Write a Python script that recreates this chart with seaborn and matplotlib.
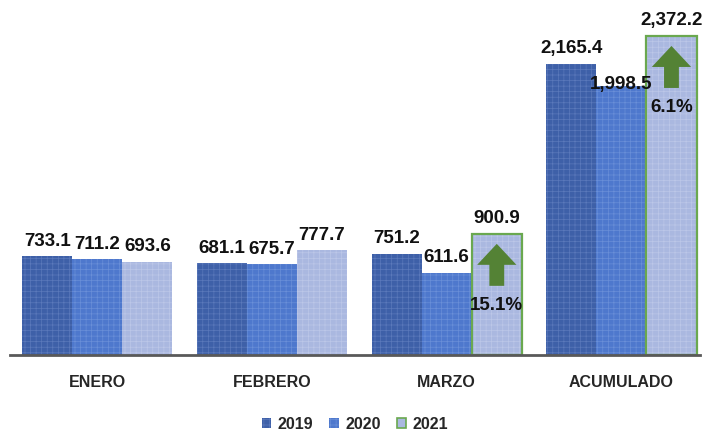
import pandas as pd
import numpy as np
import seaborn as sns
import matplotlib.pyplot as plt
from matplotlib.patches import Patch, FancyArrow

meses = ['ENERO', 'FEBRERO', 'MARZO', 'ACUMULADO']
anios = ['2019', '2020', '2021']
v2019 = [733.1, 681.1, 751.2, 2165.4]
v2020 = [711.2, 675.7, 611.6, 1998.5]
v2021 = [693.6, 777.7, 900.9, 2372.2]
variacion = {'MARZO': '15.1%', 'ACUMULADO': '6.1%'}

datos = pd.DataFrame({
    'mes': meses * 3,
    'anio': [a for a in anios for _ in meses],
    'valor': v2019 + v2020 + v2021,
})

sns.set_style('white')
plt.rcParams['font.family'] = ['Liberation Sans', 'DejaVu Sans']
plt.rcParams['hatch.linewidth'] = 0.5

colores = ['#3e60a8', '#4e78cd', '#aab8e0']
hatch_col = ['#5b79bb', '#6a8fd8', '#bcc7e8']
verde = '#6aa84f'
flecha = '#548235'

fig = plt.figure(figsize=(7.04, 4.35), dpi=100)
ax = fig.add_axes([10 / 704, 1 - 356 / 435, 690 / 704, 356 / 435])
sns.barplot(data=datos, x='mes', y='valor', hue='anio', palette=colores,
            width=0.86, saturation=1, legend=False, ax=ax)

ymax = 2647
ax.set_ylim(0, ymax)
ax.set_xlim(-0.5, 3.45)
px = ymax / 356  # unidades por pixel

barras = list(ax.containers)[:3]
for i, cont in enumerate(barras):
    for j, bar in enumerate(cont):
        bar.set_edgecolor(hatch_col[i])
        bar.set_hatch('+++')
        bar.set_linewidth(0)
        h = bar.get_height()
        cx = bar.get_x() + bar.get_width() / 2
        off = 16
        if i == 1 and j == 3:
            off = 3
        ax.text(cx, h + off * px, f'{h:,.1f}', ha='center', va='center',
                fontsize=13.5, fontweight='bold', color='#111111')
        if i == 2 and meses[j] in variacion:
            ax.bar(cx, h, width=bar.get_width(), fill=False, edgecolor=verde, linewidth=1.6)
            tip = h - 10 * px
            largo = 42 * px
            ax.add_patch(FancyArrow(cx, tip - largo, 0, largo, width=0.085,
                                    head_width=0.225, head_length=21 * px,
                                    length_includes_head=True, color=flecha, lw=0))
            ax.text(cx, tip - largo - 19 * px, variacion[meses[j]], ha='center', va='center',
                    fontsize=13.5, fontweight='bold', color='#111111')

for s in ['top', 'right', 'left']:
    ax.spines[s].set_visible(False)
ax.spines['bottom'].set_color('#595959')
ax.spines['bottom'].set_linewidth(2)
ax.set_yticks([])
ax.set_xlabel('')
ax.set_ylabel('')
ax.tick_params(axis='x', length=0, pad=14)
for t in ax.get_xticklabels():
    t.set_fontweight('bold')
    t.set_fontsize(11.5)

handles = [
    Patch(facecolor=colores[0], edgecolor=hatch_col[0], hatch='+++', lw=0),
    Patch(facecolor=colores[1], edgecolor=hatch_col[1], hatch='+++', lw=0),
    Patch(facecolor=colores[2], edgecolor=verde, lw=1.2),
]
fig.legend(handles, anios, loc='center', bbox_to_anchor=(355 / 704, 1 - 425 / 435),
           ncol=3, frameon=False, handlelength=0.6, handleheight=0.6,
           handletextpad=0.4, columnspacing=1.0,
           prop={'weight': 'bold', 'size': 11.5})

plt.savefig('out.png', dpi=100)
